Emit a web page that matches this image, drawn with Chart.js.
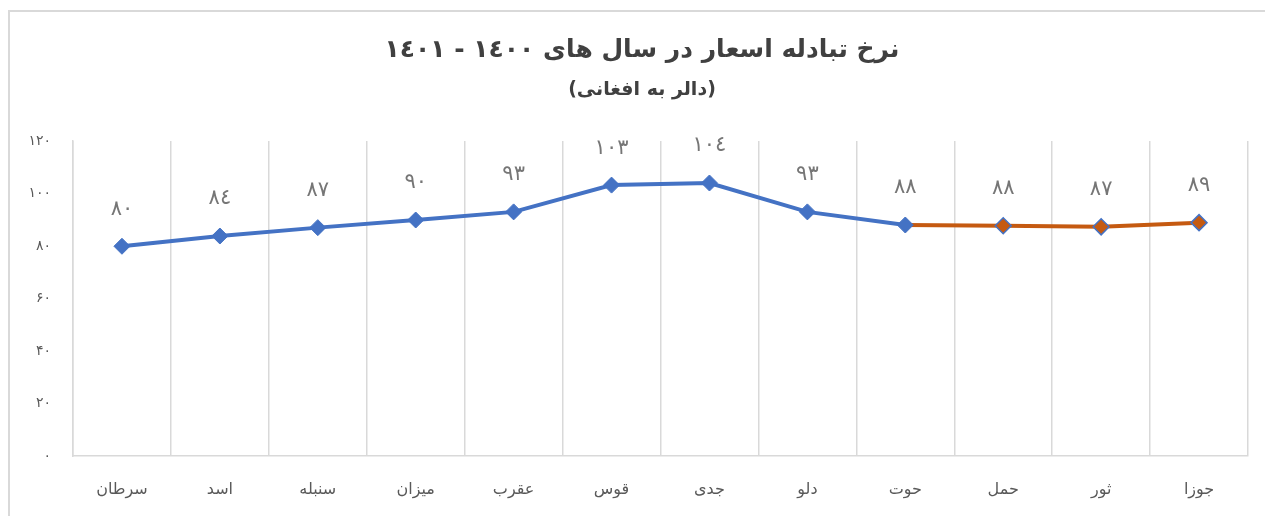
<!DOCTYPE html>
<html>
<head>
<meta charset="utf-8">
<script src="https://cdn.jsdelivr.net/npm/chart.js@4.4.0/dist/chart.umd.min.js"></script>
<style>
  html, body { margin: 0; padding: 0; background: #ffffff; overflow: hidden; }
  #wrap { position: relative; width: 1265px; height: 516px; }
  #frame { position: absolute; left: 8px; top: 10px; width: 1300px; height: 600px; border: 2px solid #d9d9d9; box-sizing: border-box; }
  #c { position: absolute; left: 0; top: 0; }
</style>
</head>
<body>
<div id="wrap">
  <div id="frame"></div>
  <canvas id="c" width="1265" height="516"></canvas>
</div>
<script>
const titleText = 'نرخ تبادله اسعار در سال های ١٤٠٠ - ١٤٠١';
const subtitleText = '(دالر به افغانی)';
const categories = ['سرطان', 'اسد', 'سنبله', 'میزان', 'عقرب', 'قوس', 'جدی', 'دلو', 'حوت', 'حمل', 'ثور', 'جوزا'];
const rate1400 = [79.9, 83.8, 87.0, 89.9, 93.0, 103.2, 104.0, 93.0, 88.0, null, null, null];
const rate1401 = [null, null, null, null, null, null, null, null, 88.0, 87.7, 87.3, 88.9];
const yTickLabels = ['۰', '۲۰', '۴۰', '۶۰', '۸۰', '۱۰۰', '۱۲۰'];
const labelDigits = ['٠', '١', '٢', '٣', '٤', '۵', '۶', '٧', '٨', '٩'];

function toLabel(v) {
  return String(Math.round(v)).split('').map(d => labelDigits[+d]).join('');
}

const FONT = "'DejaVu Sans', 'Noto Sans', sans-serif";

const titlePlugin = {
  id: 'titles',
  afterDraw(chart) {
    const ctx = chart.ctx;
    ctx.save();
    ctx.textAlign = 'center';
    ctx.textBaseline = 'middle';
    ctx.fillStyle = '#404040';
    ctx.font = 'bold 25px ' + FONT;
    ctx.fillText(titleText, 642, 50);
    ctx.font = 'bold 19px ' + FONT;
    ctx.fillText(subtitleText, 642, 90);
    ctx.restore();
  }
};

const labelPlugin = {
  id: 'pointLabels',
  afterDatasetsDraw(chart) {
    const ctx = chart.ctx;
    ctx.save();
    ctx.textAlign = 'center';
    ctx.textBaseline = 'middle';
    ctx.fillStyle = '#767676';
    ctx.font = '21px ' + FONT;
    chart.data.datasets.forEach((ds, di) => {
      const meta = chart.getDatasetMeta(di);
      meta.data.forEach((pt, i) => {
        const v = ds.data[i];
        if (v === null || v === undefined) return;
        if (di === 1 && rate1400[i] !== null) return;
        ctx.fillText(toLabel(v), pt.x, pt.y - 37);
      });
    });
    ctx.restore();
  }
};

new Chart(document.getElementById('c'), {
  type: 'line',
  data: {
    labels: categories,
    datasets: [
      {
        label: '1400',
        data: rate1400,
        borderColor: '#4472C4',
        backgroundColor: '#4472C4',
        borderWidth: 4,
        pointStyle: 'rectRot',
        pointRadius: 8,
        pointHoverRadius: 8,
        pointBackgroundColor: '#4472C4',
        pointBorderColor: '#4472C4',
        pointBorderWidth: 1,
        tension: 0
      },
      {
        label: '1401',
        data: rate1401,
        borderColor: '#C55A11',
        backgroundColor: '#C55A11',
        borderWidth: 4,
        pointStyle: 'rectRot',
        pointRadius: rate1401.map((v, i) => rate1400[i] !== null ? 0 : 8),
        pointHoverRadius: 8,
        pointBackgroundColor: '#C55A11',
        pointBorderColor: '#4472C4',
        pointBorderWidth: 1.5,
        tension: 0
      }
    ]
  },
  options: {
    responsive: false,
    animation: false,
    layout: { padding: { left: 0, right: 17, top: 141, bottom: 0 } },
    plugins: {
      legend: { display: false },
      title: { display: false },
      tooltip: { enabled: false }
    },
    scales: {
      x: {
        offset: true,
        grid: { display: true, offset: true, color: '#d9d9d9', lineWidth: 1.5, drawTicks: false },
        border: { display: true, color: '#d9d9d9', width: 1.5 },
        ticks: { color: '#595959', font: { family: FONT, size: 16 }, padding: 24, maxRotation: 0, autoSkip: false },
        afterFit(scale) { scale.height = 60; }
      },
      y: {
        min: 0,
        max: 120,
        grid: { display: false, drawTicks: false },
        border: { display: true, color: '#d9d9d9', width: 1.5 },
        ticks: {
          stepSize: 20,
          color: '#595959',
          font: { family: FONT, size: 14 },
          padding: 22,
          callback: function(value) { return yTickLabels[Math.round(value / 20)]; }
        },
        afterFit(scale) { scale.width = 73; }
      }
    }
  },
  plugins: [titlePlugin, labelPlugin]
});
</script>
</body>
</html>
